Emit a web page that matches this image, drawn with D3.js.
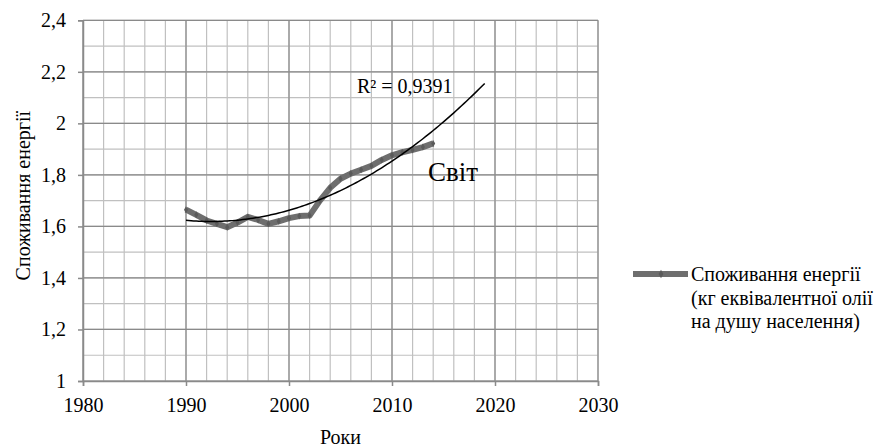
<!DOCTYPE html>
<html>
<head>
<meta charset="utf-8">
<script src="https://cdn.jsdelivr.net/npm/d3@7"></script>
<style>
  html, body { margin: 0; padding: 0; background: #fff; }
</style>
</head>
<body>
<div id="chart"></div>
<script>
// Data
const years = [1990, 1991, 1992, 1993, 1994, 1995, 1996, 1997, 1998, 1999, 2000, 2001, 2002,
  2003, 2004, 2005, 2006, 2007, 2008, 2009, 2010, 2011, 2012, 2013, 2014]
const consumption = [1.665, 1.645, 1.623, 1.61, 1.597, 1.615, 1.637, 1.625, 1.61, 1.62, 1.632, 1.64, 1.642,
  1.70, 1.75, 1.785, 1.805, 1.82, 1.835, 1.858, 1.876, 1.888, 1.897, 1.908, 1.922]
const xTicks = [1980, 1990, 2000, 2010, 2020, 2030]
const yTicks = [1, 1.2, 1.4, 1.6, 1.8, 2, 2.2, 2.4]
const seriesName = ['Споживання енергії', '(кг еквівалентної олії', 'на душу населення)']
const r2Label = 'R² = 0,9391'
const regionLabel = 'Світ'
const forecastTo = 2019

const FONT = 'Liberation Serif'
const width = 887
const height = 448
const margin = { left: 83, right: 289, top: 20.3, bottom: 67 }

const svg = d3.select('#chart')
  .append('svg')
  .attr('width', width)
  .attr('height', height)

const x = d3.scaleLinear().domain([1980, 2030]).range([margin.left, width - margin.right])
const y = d3.scaleLinear().domain([1, 2.4]).range([height - margin.bottom, margin.top])

// Grid: minor every 2 years / 0.1, major every 10 years / 0.2
const g = svg.append('g')
const minorX = d3.range(1980, 2031, 2)
const minorY = d3.range(10, 25, 1).map(v => v / 10)

g.selectAll('.minor-x')
  .data(minorX)
  .join('line')
  .attr('x1', d => x(d)).attr('x2', d => x(d))
  .attr('y1', y(1)).attr('y2', y(2.4))
  .attr('stroke', '#c0c0c0')
  .attr('stroke-width', 1.2)

g.selectAll('.minor-y')
  .data(minorY)
  .join('line')
  .attr('x1', x(1980)).attr('x2', x(2030))
  .attr('y1', d => y(d)).attr('y2', d => y(d))
  .attr('stroke', '#c0c0c0')
  .attr('stroke-width', 1.2)

g.selectAll('.major-x')
  .data(xTicks)
  .join('line')
  .attr('x1', d => x(d)).attr('x2', d => x(d))
  .attr('y1', y(1)).attr('y2', y(2.4))
  .attr('stroke', '#8a8a8a')
  .attr('stroke-width', 1.2)

g.selectAll('.major-y')
  .data(yTicks)
  .join('line')
  .attr('x1', x(1980)).attr('x2', x(2030))
  .attr('y1', d => y(d)).attr('y2', d => y(d))
  .attr('stroke', '#8a8a8a')
  .attr('stroke-width', 1.2)

// Axes
const xAxis = svg.append('g')
  .attr('transform', `translate(0,${y(1)})`)
  .call(d3.axisBottom(x).tickValues(xTicks).tickSize(5).tickPadding(6).tickFormat(d3.format('d')))
const yAxis = svg.append('g')
  .attr('transform', `translate(${x(1980)},0)`)
  .call(d3.axisLeft(y).tickValues(yTicks).tickSize(5).tickPadding(12)
    .tickFormat(d => String(d).replace('.', ',')))

for (const ax of [xAxis, yAxis]) {
  ax.attr('font-family', null).attr('font-size', null)
  ax.select('.domain').attr('stroke', '#8a8a8a').attr('stroke-width', 1.5)
  ax.selectAll('.tick line').attr('stroke', '#8a8a8a').attr('stroke-width', 1.5)
  ax.selectAll('.tick text')
    .attr('font-family', FONT)
    .attr('font-size', 20)
    .attr('fill', '#000')
}
xAxis.selectAll('.tick text').attr('dy', '1em')

// Series
const points = years.map((yr, i) => ({ yr, v: consumption[i] }))
const line = d3.line().x(d => x(d.yr)).y(d => y(d.v))

svg.append('path')
  .datum(points)
  .attr('d', line)
  .attr('fill', 'none')
  .attr('stroke', '#6e6e6e')
  .attr('stroke-width', 6)
  .attr('stroke-linejoin', 'round')

svg.append('g')
  .selectAll('path')
  .data(points)
  .join('path')
  .attr('d', d3.symbol(d3.symbolDiamond, 14))
  .attr('transform', d => `translate(${x(d.yr)},${y(d.v)})`)
  .attr('fill', '#5a5a5a')

// Polynomial (order 2) trend line, least squares
function quadFit(xs, ys) {
  const x0 = xs[0]
  const s = [0, 0, 0, 0, 0]
  const t = [0, 0, 0]
  xs.forEach((xv, i) => {
    const u = xv - x0
    for (let k = 0; k < 5; k++) s[k] += Math.pow(u, k)
    for (let k = 0; k < 3; k++) t[k] += ys[i] * Math.pow(u, k)
  })
  const A = [[s[0], s[1], s[2], t[0]], [s[1], s[2], s[3], t[1]], [s[2], s[3], s[4], t[2]]]
  for (let c = 0; c < 3; c++) {
    for (let r = c + 1; r < 3; r++) {
      const f = A[r][c] / A[c][c]
      for (let k = c; k < 4; k++) A[r][k] -= f * A[c][k]
    }
  }
  const coef = [0, 0, 0]
  for (let r = 2; r >= 0; r--) {
    let sum = A[r][3]
    for (let k = r + 1; k < 3; k++) sum -= A[r][k] * coef[k]
    coef[r] = sum / A[r][r]
  }
  return xv => coef[0] + coef[1] * (xv - x0) + coef[2] * (xv - x0) ** 2
}
const trend = quadFit(years, consumption)
const trendPts = d3.range(years[0], forecastTo + 0.01, 0.25).map(yr => ({ yr, v: trend(yr) }))

svg.append('path')
  .datum(trendPts)
  .attr('d', line)
  .attr('fill', 'none')
  .attr('stroke', '#000')
  .attr('stroke-width', 1.5)

// Labels
svg.append('text')
  .attr('x', 357).attr('y', 93)
  .attr('font-family', FONT)
  .attr('font-size', 20)
  .text(r2Label)

svg.append('text')
  .attr('x', 428).attr('y', 181)
  .attr('font-family', FONT)
  .attr('font-size', 27)
  .text(regionLabel)

svg.append('text')
  .attr('transform', `translate(30,${(y(1) + y(2.4)) / 2 - 5}) rotate(-90)`)
  .attr('text-anchor', 'middle')
  .attr('font-family', FONT)
  .attr('font-size', 20)
  .text('Споживання енергії')

svg.append('text')
  .attr('x', (x(1980) + x(2030)) / 2).attr('y', 444)
  .attr('text-anchor', 'middle')
  .attr('font-family', FONT)
  .attr('font-size', 20)
  .text('Роки')

// Legend
const legend = svg.append('g').attr('transform', 'translate(633,274)')
legend.append('line')
  .attr('x1', 0).attr('x2', 55)
  .attr('stroke', '#6e6e6e')
  .attr('stroke-width', 6)
legend.append('path')
  .attr('d', d3.symbol(d3.symbolDiamond, 20))
  .attr('transform', 'translate(28,0)')
  .attr('fill', '#5a5a5a')
legend.selectAll('text')
  .data(seriesName)
  .join('text')
  .attr('x', 58)
  .attr('y', (d, i) => 7 + i * 23.5)
  .attr('font-family', FONT)
  .attr('font-size', 20)
  .text(d => d)
</script>
</body>
</html>
